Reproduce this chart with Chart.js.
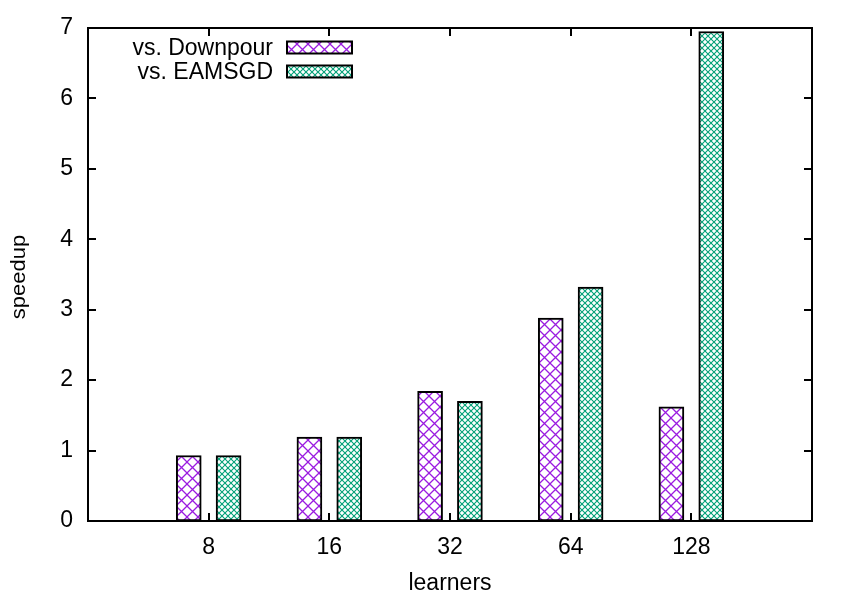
<!DOCTYPE html>
<html>
<head>
<meta charset="utf-8">
<script src="https://cdn.jsdelivr.net/npm/chart.js@4.4.1/dist/chart.umd.min.js"></script>
<style>
  html, body { margin: 0; padding: 0; background: #fff; }
  #wrap { width: 855px; height: 598px; }
</style>
</head>
<body>
<div id="wrap"><canvas id="grafico" width="855" height="598"></canvas></div>
<script>
// dados
const learners = ['8', '16', '32', '64', '128'];
const vsDownpour = [0.93, 1.19, 1.84, 2.88, 1.62];
const vsEAMSGD = [0.93, 1.19, 1.70, 3.32, 6.95];
const yTicks = [0, 1, 2, 3, 4, 5, 6, 7];

const FONT = 'Liberation Sans, Arial, sans-serif';
const FSIZE = 23;

// padrões de hachura (estilo gnuplot)
function hachura(cor, tam, larg) {
  const c = document.createElement('canvas');
  c.width = tam; c.height = tam;
  const g = c.getContext('2d');
  g.fillStyle = '#fff';
  g.fillRect(0, 0, tam, tam);
  g.strokeStyle = cor;
  g.lineWidth = larg;
  g.beginPath();
  g.moveTo(-1, -1); g.lineTo(tam + 1, tam + 1);
  g.moveTo(tam + 1, -1); g.lineTo(-1, tam + 1);
  g.stroke();
  return g.createPattern(c, 'repeat');
}

const ctx = document.getElementById('grafico').getContext('2d');
const padraoRoxo = hachura('#9a1be0', 11, 1.3);
const padraoVerde = hachura('#00a077', 6, 1.1);

const desloc = 0.165; // meia distância entre as barras do grupo

// moldura, marcas, títulos e legenda no estilo gnuplot
const estiloGnuplot = {
  id: 'estiloGnuplot',
  afterDatasetsDraw(chart) {
    const { ctx, chartArea: a, scales } = chart;
    const xs = scales.x, ys = scales.y;
    ctx.save();
    ctx.strokeStyle = '#000';
    ctx.lineWidth = 2;
    ctx.strokeRect(a.left, a.top, a.right - a.left, a.bottom - a.top);
    ctx.beginPath();
    yTicks.forEach(v => {
      const y = Math.round(ys.getPixelForValue(v));
      ctx.moveTo(a.left, y); ctx.lineTo(a.left + 8, y);
      ctx.moveTo(a.right, y); ctx.lineTo(a.right - 8, y);
    });
    learners.forEach((l, i) => {
      const x = Math.round(xs.getPixelForValue(i));
      ctx.moveTo(x, a.bottom); ctx.lineTo(x, a.bottom - 8);
      ctx.moveTo(x, a.top); ctx.lineTo(x, a.top + 8);
    });
    ctx.stroke();

    ctx.fillStyle = '#000';
    ctx.font = FSIZE + 'px ' + FONT;
    ctx.textAlign = 'center';
    ctx.textBaseline = 'alphabetic';
    ctx.fillText('learners', (a.left + a.right) / 2, 590);
    ctx.save();
    ctx.translate(25, 277);
    ctx.rotate(-Math.PI / 2);
    ctx.scale(1, 0.9);
    ctx.font = '22px ' + FONT;
    ctx.fillText('speedup', 0, 0);
    ctx.restore();

    // legenda
    ctx.textBaseline = 'middle';
    const linhas = [47.5, 71.5];
    chart.data.datasets.forEach((ds, k) => {
      const y = linhas[k];
      ctx.textAlign = 'right';
      ctx.fillStyle = '#000';
      ctx.fillText(ds.label, 273, y + 1);
      ctx.fillStyle = ds.backgroundColor;
      ctx.fillRect(287, y - 6, 65, 12);
      ctx.strokeRect(287, y - 6, 65, 12);
    });
    ctx.restore();
  }
};

new Chart(ctx, {
  type: 'bar',
  data: {
    datasets: [
      {
        label: 'vs. Downpour',
        data: vsDownpour.map((v, i) => ({ x: i - desloc, y: v })),
        backgroundColor: padraoRoxo,
        borderColor: '#000',
        borderWidth: 2,
        borderSkipped: false,
        barThickness: 25,
        grouped: false
      },
      {
        label: 'vs. EAMSGD',
        data: vsEAMSGD.map((v, i) => ({ x: i + desloc, y: v })),
        backgroundColor: padraoVerde,
        borderColor: '#000',
        borderWidth: 2,
        borderSkipped: false,
        barThickness: 25,
        grouped: false
      }
    ]
  },
  plugins: [estiloGnuplot],
  options: {
    responsive: false,
    animation: false,
    layout: { padding: { left: 0, right: 43, top: 28, bottom: 0 } },
    plugins: {
      legend: { display: false },
      tooltip: { enabled: false }
    },
    scales: {
      x: {
        type: 'linear',
        min: -1,
        max: 5,
        offset: false,
        grid: { display: false, offset: false },
        border: { display: false },
        afterBuildTicks: s => { s.ticks = learners.map((l, i) => ({ value: i })); },
        afterFit: s => { s.height = 77; },
        ticks: {
          color: '#000',
          padding: 5,
          maxRotation: 0,
          autoSkip: false,
          font: { family: FONT, size: FSIZE },
          callback: v => learners[v]
        }
      },
      y: {
        min: 0,
        max: 7,
        grid: { display: false },
        border: { display: false },
        afterBuildTicks: s => { s.ticks = yTicks.map(v => ({ value: v })); },
        afterFit: s => { s.width = 88; },
        ticks: {
          color: '#000',
          padding: 7,
          font: { family: FONT, size: FSIZE }
        }
      }
    }
  }
});
</script>
</body>
</html>
